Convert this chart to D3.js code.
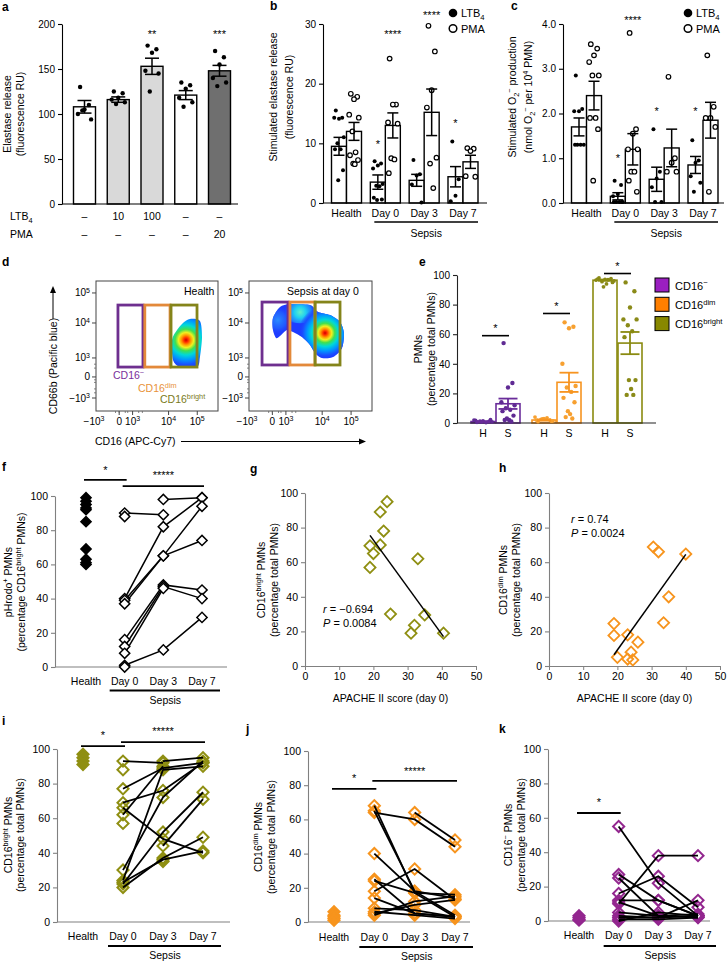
<!DOCTYPE html>
<html><head><meta charset="utf-8">
<script src="https://cdn.jsdelivr.net/npm/d3@7/dist/d3.min.js"></script>
<style>html,body{margin:0;padding:0;background:#fff;}svg{display:block;}</style>
</head><body>
<svg id="fig" width="727" height="962" xmlns="http://www.w3.org/2000/svg"></svg>
<script>
// ================= DATA =================
// panel a
const aLTB4 = ['–','10','100','–','–'];
const aPMA = ['–','–','–','–','20'];
const aMeans = [108,116,153,121,148];
const aSEM = [7,3,9,5,6];
const aPoints = [[130,110,105,100,94,104],[125,123,118,116,113,111],[176,172,168,148,145,125],[135,132,128,118,113,108],[170,163,155,140,135,131]];
const aStars = ['','','**','','***'];
const aStarLevel = 191;
const aYTicks = [0,50,100,150,200];
// panels b, c
const timeGroups = ['Health','Day 0','Day 3','Day 7'];
const bYTicks = [0,10,20,30];
const bLTB4Means = [9.5,3.5,3.8,4.4];
const bLTB4SEM = [1.5,1.2,1.0,1.7];
const bPMAMeans = [12,13,15.2,6.9];
const bPMASEM = [1.5,2.1,3.9,1.1];
const bLTB4Points = [[15.5,14.3,14.1,14.3,11,10,9,9,5.5,3.8],[7,6.6,6.3,5.8,3.2,2.9,2.8,0.9,0.6,0.5],[7.2,4.8,4.6,3.1,0.1],[10.3,4.0,1.2,0.3]];
const bPMAPoints = [[18.3,17.8,17.4,14.8,14.3,12,8.5,8,7.2,6.6,6.5],[24.2,16.5,16.5,13.5,13.3,7.5,7.3,5.0],[29.7,25.4,18.9,16,7.6,6.6,2.5],[9.2,9.1,8.7,4.5,4.4]];
const bStars = [{grp:'Day 0',s:'LTB4',text:'*',level:10.2},{grp:'Day 0',s:'PMA',text:'****',level:28.6},{grp:'Day 3',s:'PMA',text:'****',level:31.8},{grp:'Day 7',s:'LTB4',text:'*',level:13.6}];
const cYTicks = [0,1,2,3,4];
const cLTB4Means = [1.7,0.15,0.53,0.85];
const cLTB4SEM = [0.2,0.08,0.27,0.19];
const cPMAMeans = [2.4,1.2,1.23,1.85];
const cPMASEM = [0.32,0.35,0.42,0.4];
const cLTB4Points = [[2.85,2.1,2.05,2.05,1.3,1.3,1.3,1.3],[0.5,0.4,0.2,0.15,0.02,0.02,0.02,0.02,0.02],[1.65,0.7,0.55,0.35,0.02,0.02],[1.4,0.95,0.9,0.6,0.45,0.25]];
const cPMAPoints = [[3.55,3.45,3.3,3.15,2.85,2.85,1.9,1.9,1.65,0.5],[3.8,1.65,1.55,1.2,1.2,0.7,0.7,0.5,0.25],[2.82,1.0,0.9,0.7,0.7],[3.3,2.15,1.9,1.9,1.7,0.25]];
const cStars = [{grp:'Day 0',s:'LTB4',text:'*',level:1.05},{grp:'Day 0',s:'PMA',text:'****',level:4.13},{grp:'Day 3',s:'LTB4',text:'*',level:2.08},{grp:'Day 7',s:'LTB4',text:'*',level:2.08}];
// panel d (flow cytometry; positions on the biexponential display axis, 0..1 of the plot)
const flowTickLabels = [['−10','3'],['0',''],['10','3'],['10','4'],['10','5']];
const flowYPos = [0.10,0.262,0.408,0.677,0.908];
const flowXPos = [-0.016,0.19,0.30,0.595,0.83];
const healthGates = [[0.18,0.385,0.338,0.815],[0.40,0.607,0.338,0.815],[0.615,0.828,0.338,0.815]];
const sepsisGates = [[0.106,0.317,0.354,0.838],[0.333,0.537,0.354,0.838],[0.537,0.74,0.354,0.838]];
const healthBlob = [[0.770,0.708],[0.852,0.692],[0.869,0.569],[0.852,0.415],[0.828,0.338],[0.689,0.338],[0.631,0.392],[0.623,0.546],[0.664,0.623],[0.713,0.677]];
const healthBlobPeak = [0.738,0.546];
const sepsisBlob = [[0.195,0.715],[0.252,0.80],[0.333,0.823],[0.496,0.815],[0.561,0.762],[0.659,0.738],[0.740,0.685],[0.772,0.60],[0.756,0.485],[0.683,0.415],[0.593,0.408],[0.537,0.446],[0.496,0.508],[0.431,0.569],[0.358,0.608],[0.309,0.623],[0.252,0.577],[0.220,0.562],[0.195,0.623]];
const sepsisPeak = [0.618,0.600];
const sepsisSecondary = [0.415,0.760];
const sepsisLeft = [0.235,0.70];
// panel e
const eCats = ['CD16neg','CD16dim','CD16bright'];
const eLegend = [['CD16','−'],['CD16','dim'],['CD16','bright']];
const eGroups = ['H','S'];
const eYTicks = [0,20,40,60,80,100];
const eHealthMeans = [1,2,96.5];
const eHealthSEM = [0.3,0.5,0.5];
const eSepsisMeans = [13,27.5,54];
const eSepsisSEM = [3.5,6.5,7.5];
const eHealthPoints = [[0.5,1,1.5,2,0.8,1.2,0.3,1.8,2.2,0.6],[1,2,3,4,1.5,2.5,3.5,2,1.2,2.8],[98,97.5,97,96.5,96,95.5,96.8,97.2,95,92,94]];
const eSepsisPoints = [[54,27,24,14,12,10,9,8,5,3,2,2,1],[68,65,64,40,25,24,21,17,14,8,6,4,3],[95,89,78,70,70,66,62,58,29,29,23,19,19]];
const eSigLevels = [59,74,101];
// panel f
const pctTicks = [0,20,40,60,80,100];
const fHealth = [99,97,95,93,92,85,69,63,61,60];
const fPatients = [[90,89,null],[null,98,99],[40,82,99],[39,65,74],[37,65,94],[16,48,45],[12,47,40],[8,46,null],[1,10,29],[0,null,null],[88,null,null]];
const fSig = [{from:'Health',to:'Day 0',level:109.4,star:'*',starLevel:115.8},{from:'Day 0',to:'Day 7',level:105.8,star:'*****',starLevel:112.9}];
// panels g, h
const apacheTicks = [0,10,20,30,40,50];
const gApache = [24,22,23,22,19,20,19,33,25,31,32,35,40.5];
const gBright = [95,89,78,70,69.5,65,57,62,30,19,23.5,29.5,19];
const gFit = [[19,75.5],[40.5,17]];
const hApache = [19,19,23,26,20,23,24,24.5,33.5,35,30.5,32,40];
const hDim = [24.5,17.7,18,13.8,5,4,8,3.5,25,40,68.8,66,64.7];
const hFit = [[19,6.5],[40,64.5]];
// panel i
const iHealth = [97,95,93,91];
const iPatients = [[93,92,null],[77,89,92],[69,76,92],[66,48,40],[30,72,93],[24,88,90],[22,52,75],[20,37,49],[23,36,41],[88,null,null],[62,90,null],[57,null,null],[null,44,71],[null,35,null],[null,93,95]];
const iSig = [{from:'Health',to:'Day 0',level:101.7,star:'*',starLevel:109},{from:'Day 0',to:'Day 7',level:104,star:'*****',starLevel:111.5}];
// panel j
const jHealth = [6,4,3,2,1];
const jPatients = [[64,60,44],[null,64,48],[65,18,4],[68,17,3],[40,18,14],[25,5,3],[24,17,16],[18,31,13],[14,5,3],[8,7,3],[6,4,2],[5,10,13],[4,12,15]];
const jSig = [{from:'Health',to:'Day 0',level:77.8,star:'*',starLevel:84.8},{from:'Day 0',to:'Day 7',level:82.5,star:'*****',starLevel:88.9}];
// panel k
const kHealth = [3,2,1,0.5];
const kPatients = [[55,22,3],[10,38,38],[27,12,3],[16,26,8],[12,12,3],[3,2,12],[5,3,4],[1,1,2],[0,5,3],[2,2,3],[11,3,2],[25,3,null]];
const kSig = [{from:'Health',to:'Day 0',level:62.8,star:'*',starLevel:70.3}];

// ================= STYLE =================
const FONT = '"Liberation Sans", Arial, Helvetica, sans-serif';
const AXG = '#808080';
const JIT = [-4,4,0,-6,6,-2,2,-5,5,-1,1,-3,3];
const aFills = ['#ffffff','#d9d9d9','#d9d9d9','#ffffff','#6f6f6f'];
const ePointCols = ['#5f2a93','#f7a030','#8a8a18'];
const eBarCols = ['#6a2c9a','#f79420','#8a8a10'];
const eLegendCols = ['#9a1fc0','#ff7f00','#888800'];
const gateCols = ['#6e2f8f','#e3893a','#84841a'];
const gateTextCols = ['#7a2f9a','#e8923a','#7a7a1a'];
const OLIVE = '#8f8f12', ORANGE = '#f7941d', PURPLE = '#93278f';

const svg = d3.select('#fig').style('font-family', FONT);
svg.append('rect').attr('width',727).attr('height',962).attr('fill','#fff');
const defs = svg.append('defs');

// ================= HELPERS =================
function addRich(t, segs, fs){
  let shift = 0;
  segs.forEach(s=>{
    let txt, target=0, size=fs;
    if (typeof s === 'string') txt = s;
    else if (s.sup !== undefined){ txt=s.sup; target=-fs*0.38; size=fs*0.7; }
    else if (s.sub !== undefined){ txt=s.sub; target=fs*0.25; size=fs*0.7; }
    const ts = t.append('tspan').attr('font-size', size).text(txt);
    if (target-shift !== 0) ts.attr('dy', target-shift);
    shift = target;
  });
  return t;
}
function txt(g, x, y, segs, fs, anchor, col, weight){
  const t = g.append('text').attr('x',x).attr('y',y).attr('font-size',fs)
    .attr('text-anchor',anchor||'start').attr('fill',col||'#000').attr('font-family',FONT);
  if (weight) t.attr('font-weight',weight);
  addRich(t, Array.isArray(segs)?segs:[segs], fs);
  return t;
}
function rotTitle(g, x, y, segs, fs){
  const t = g.append('text').attr('transform',`translate(${x},${y}) rotate(-90)`)
    .attr('text-anchor','middle').attr('font-size',fs).attr('font-family',FONT).attr('fill','#000');
  addRich(t, segs, fs);
}
function leftAxis(g, y, ticks, x, col, fs){
  const ax = g.append('g').attr('transform',`translate(${x},0)`)
    .call(d3.axisLeft(y).tickValues(ticks).tickSize(4).tickSizeOuter(0).tickPadding(3));
  ax.attr('font-family',FONT).attr('font-size',fs||10);
  ax.select('.domain').attr('stroke',col).attr('stroke-width',1.1);
  ax.selectAll('.tick line').attr('stroke',col).attr('stroke-width',1.1);
  ax.selectAll('.tick text').attr('fill','#000');
  return ax;
}
function hline(g,x1,x2,y,col,w){ return g.append('line').attr('x1',x1).attr('x2',x2).attr('y1',y).attr('y2',y).attr('stroke',col).attr('stroke-width',w||1.1); }
function vline(g,x,y1,y2,col,w){ return g.append('line').attr('x1',x).attr('x2',x).attr('y1',y1).attr('y2',y2).attr('stroke',col).attr('stroke-width',w||1.1); }
function errBar(g, cx, y, m, s, cap, col, w){
  vline(g, cx, y(m-s), y(m+s), col, w);
  hline(g, cx-cap/2, cx+cap/2, y(m+s), col, w);
  hline(g, cx-cap/2, cx+cap/2, y(m-s), col, w);
}
function star(g, x, yc, text, fs){
  g.append('text').attr('x',x).attr('y',yc+fs*0.5).attr('text-anchor','middle')
    .attr('font-size',fs).attr('font-family',FONT).attr('fill','#000').text(text);
}
function diamond(g, cx, cy, size, stroke, fill, sw){
  g.append('path').attr('d', d3.symbol(d3.symbolSquare, size)())
    .attr('transform',`translate(${cx},${cy}) rotate(45)`)
    .attr('fill',fill).attr('stroke',stroke).attr('stroke-width',sw);
}
function letter(x,y,l){ txt(svg,x,y,l,12,'start','#000','bold'); }

// ================= PANEL a =================
(function(){
  const g = svg.append('g');
  const y = d3.scaleLinear().domain([0,200]).range([204,24]);
  const x = d3.scalePoint().domain(d3.range(aMeans.length)).range([84.5,219.5]);
  leftAxis(g, y, aYTicks, 62, '#000');
  aMeans.forEach((m,i)=>{
    g.append('rect').attr('x',x(i)-11).attr('width',22).attr('y',y(m)).attr('height',y(0)-y(m))
      .attr('fill',aFills[i]).attr('stroke','#000').attr('stroke-width',1.4);
  });
  hline(g,62,238,y(0),'#000',1.2);
  aPoints.forEach((pts,i)=>pts.forEach((v,j)=>{
    g.append('circle').attr('cx',x(i)+JIT[j%JIT.length]*1.1).attr('cy',y(v)).attr('r',2.2).attr('fill','#000');
  }));
  aMeans.forEach((m,i)=>errBar(g,x(i),y,m,aSEM[i],14,'#000',1.5));
  aStars.forEach((s,i)=>{ if(s) star(g,x(i),y(aStarLevel),s,11); });
  txt(g,10,220,['LTB',{sub:'4'}],10.5);
  txt(g,10,238,'PMA',10.5);
  aLTB4.forEach((s,i)=>txt(g,x(i),220,s,10.5,'middle'));
  aPMA.forEach((s,i)=>txt(g,x(i),238,s,10.5,'middle'));
  rotTitle(g,10.5,114,['Elastase release'],10.5);
  rotTitle(g,24,114,['(fluorescence RU)'],10.5);
  letter(2,11,'a');
})();

// ================= PANELS b, c =================
function groupedPanel(o){
  const g = svg.append('g');
  const y = d3.scaleLinear().domain(o.domain).range([203,24]);
  const x = d3.scalePoint().domain(timeGroups).range(o.xr);
  leftAxis(g, y, o.ticks, o.axisX, '#000');
  const series = [{key:'LTB4',means:o.lm,sem:o.ls,pts:o.lp,off:-7.5,filled:true},{key:'PMA',means:o.pm,sem:o.ps,pts:o.pp,off:7.5,filled:false}];
  series.forEach(s=>timeGroups.forEach((grp,i)=>{
    const cx = x(grp)+s.off;
    g.append('rect').attr('x',cx-7.5).attr('width',15).attr('y',y(s.means[i])).attr('height',y(0)-y(s.means[i]))
      .attr('fill','#fff').attr('stroke','#000').attr('stroke-width',1.4);
  }));
  hline(g,o.axisX,o.xEnd,y(0),'#000',1.2);
  series.forEach(s=>timeGroups.forEach((grp,i)=>{
    const cx = x(grp)+s.off;
    s.pts[i].forEach((v,j)=>{
      const px = cx + JIT[j%JIT.length]*0.8;
      const c = g.append('circle').attr('cx',px).attr('cy',y(v));
      if (s.filled) c.attr('r',2).attr('fill','#000');
      else c.attr('r',2.3).attr('fill','#fff').attr('stroke','#000').attr('stroke-width',1.2);
    });
  }));
  series.forEach(s=>timeGroups.forEach((grp,i)=>errBar(g,x(grp)+s.off,y,s.means[i],s.sem[i],11,'#000',1.5)));
  o.stars.forEach(st=>star(g, x(st.grp)+(st.s==='LTB4'?-7.5:7.5), y(st.level), st.text, 11));
  timeGroups.forEach(grp=>txt(g,x(grp),217,grp,10.5,'middle'));
  hline(g,x('Day 0')-11,x('Day 7')+15,222,'#000',1.6);
  txt(g,(x('Day 0')+x('Day 7'))/2+2,237,'Sepsis',10.5,'middle');
  // legend
  g.append('circle').attr('cx',o.legX).attr('cy',13).attr('r',4.3).attr('fill','#000');
  g.append('circle').attr('cx',o.legX).attr('cy',28.5).attr('r',3.8).attr('fill','#fff').attr('stroke','#000').attr('stroke-width',1.5);
  txt(g,o.legX+8,17,['LTB',{sub:'4'}],11);
  txt(g,o.legX+8,32.5,'PMA',11);
  o.title.forEach((segs,k)=>rotTitle(g,o.titleX[k],97,segs,10.5));
}
groupedPanel({domain:[0,30],ticks:bYTicks,xr:[346.5,463],axisX:323,xEnd:487,lm:bLTB4Means,ls:bLTB4SEM,pm:bPMAMeans,ps:bPMASEM,lp:bLTB4Points,pp:bPMAPoints,stars:bStars,legX:453,
  title:[['Stimulated elastase release'],['(fluorescence RU)']],titleX:[277,293]});
letter(270,10,'b');
groupedPanel({domain:[0,4],ticks:cYTicks,xr:[586.5,703],axisX:563,xEnd:724,lm:cLTB4Means,ls:cLTB4SEM,pm:cPMAMeans,ps:cPMASEM,lp:cLTB4Points,pp:cPMAPoints,stars:cStars,legX:688,
  title:[['Stimulated O',{sub:'2'},{sup:'−'},' production'],['(nmol O',{sub:'2'},{sup:'−'},' per 10',{sup:'4'},' PMN)']],titleX:[516,532]});
letter(511,10,'c');

// ================= PANEL d =================
function jetGradient(id, cx, cy, r, endOpacity){
  const gr = defs.append('radialGradient').attr('id',id).attr('gradientUnits','userSpaceOnUse')
    .attr('cx',cx).attr('cy',cy).attr('r',r).attr('fx',cx).attr('fy',cy);
  const stops = [[0,'#c80000',1],[0.07,'#ff2a00',1],[0.16,'#ff9a00',1],[0.25,'#f0f020',1],[0.36,'#40e050',1],[0.5,'#00d8d8',1],[0.66,'#0098ff',1],[0.82,'#1a50ff',1],[1,'#1a36ff',endOpacity]];
  stops.forEach(s=>gr.append('stop').attr('offset',s[0]).attr('stop-color',s[1]).attr('stop-opacity',s[2]));
}
function flowPlot(left, top, w, h, gates, name, nameX){
  const g = svg.append('g');
  const xs = d3.scaleLinear().domain([0,1]).range([left,left+w]);
  const ys = d3.scaleLinear().domain([0,1]).range([top+h,top]);
  g.append('rect').attr('x',left).attr('y',top).attr('width',w).attr('height',h).attr('fill','#fff').attr('stroke','#444').attr('stroke-width',1);
  flowYPos.forEach((p,i)=>{
    hline(g,left-4,left,ys(p),'#444',1);
    txt(g,left-6,ys(p)+3.5,[flowTickLabels[i][0],{sup:flowTickLabels[i][1]}],10,'end');
  });
  flowXPos.forEach((p,i)=>{
    if (p>=0) vline(g,xs(p),top+h,top+h+4,'#444',1);
    txt(g,xs(p),top+h+14,[flowTickLabels[i][0],{sup:flowTickLabels[i][1]}],10,'middle');
  });
  // minor ticks near zero
  [0.14,0.17,0.22,0.24,0.33,0.36].forEach(p=>{ hline(g,left-2,left,ys(p),'#666',0.8); vline(g,xs(p+0.02),top+h,top+h+2,'#666',0.8); });
  txt(g,nameX,top+14,name,10.5,'start');
  return {g,xs,ys};
}
(function(){
  // Health
  const H = flowPlot(96,281,122,130,healthGates,'Health',184);
  const pk = [H.xs(healthBlobPeak[0]),H.ys(healthBlobPeak[1])];
  jetGradient('jetH',pk[0],pk[1],30,1);
  const lineH = d3.line().curve(d3.curveCardinalClosed.tension(0.2)).x(d=>H.xs(d[0])).y(d=>H.ys(d[1]));
  H.g.append('path').attr('d',lineH(healthBlob)).attr('fill','url(#jetH)');
  healthGates.forEach((gt,i)=>H.g.append('rect').attr('x',H.xs(gt[0])).attr('y',H.ys(gt[3])).attr('width',H.xs(gt[1])-H.xs(gt[0])).attr('height',H.ys(gt[2])-H.ys(gt[3]))
    .attr('fill','none').attr('stroke',gateCols[i]).attr('stroke-width',2.8));
  txt(H.g,113,379,['CD16',{sup:'−'}],10.5,'start',gateTextCols[0]);
  txt(H.g,138,392,['CD16',{sup:'dim'}],10.5,'start',gateTextCols[1]);
  txt(H.g,160,403,['CD16',{sup:'bright'}],10.5,'start',gateTextCols[2]);
  // Sepsis
  const S = flowPlot(249,281,123,130,sepsisGates,'Sepsis at day 0',287);
  const lineS = d3.line().curve(d3.curveCardinalClosed.tension(0.2)).x(d=>S.xs(d[0])).y(d=>S.ys(d[1]));
  defs.append('clipPath').attr('id','sepClip').append('path').attr('d',lineS(sepsisBlob));
  S.g.append('path').attr('d',lineS(sepsisBlob)).attr('fill','#1e3cff');
  const cg = S.g.append('g').attr('clip-path','url(#sepClip)');
  const lp = [S.xs(sepsisLeft[0]),S.ys(sepsisLeft[1])];
  const lg = defs.append('radialGradient').attr('id','leftB').attr('gradientUnits','userSpaceOnUse').attr('cx',lp[0]).attr('cy',lp[1]).attr('r',14);
  [[0,'#2a8cff',1],[0.6,'#2266ff',0.7],[1,'#1e3cff',0]].forEach(s=>lg.append('stop').attr('offset',s[0]).attr('stop-color',s[1]).attr('stop-opacity',s[2]));
  cg.append('ellipse').attr('cx',lp[0]).attr('cy',lp[1]).attr('rx',14).attr('ry',16).attr('fill','url(#leftB)');
  const sp = [S.xs(sepsisSecondary[0]),S.ys(sepsisSecondary[1])];
  const sg = defs.append('radialGradient').attr('id','cyanB').attr('gradientUnits','userSpaceOnUse').attr('cx',sp[0]).attr('cy',sp[1]).attr('r',16);
  [[0,'#60f0c8',1],[0.35,'#20d0f0',1],[0.7,'#2090ff',0.8],[1,'#1e3cff',0]].forEach(s=>sg.append('stop').attr('offset',s[0]).attr('stop-color',s[1]).attr('stop-opacity',s[2]));
  cg.append('ellipse').attr('cx',sp[0]).attr('cy',sp[1]).attr('rx',18).attr('ry',11).attr('fill','url(#cyanB)');
  const pp = [S.xs(sepsisPeak[0]),S.ys(sepsisPeak[1])];
  jetGradient('jetS',pp[0],pp[1],27,0);
  cg.append('ellipse').attr('cx',pp[0]).attr('cy',pp[1]).attr('rx',27).attr('ry',27).attr('fill','url(#jetS)');
  sepsisGates.forEach((gt,i)=>S.g.append('rect').attr('x',S.xs(gt[0])).attr('y',S.ys(gt[3])).attr('width',S.xs(gt[1])-S.xs(gt[0])).attr('height',S.ys(gt[2])-S.ys(gt[3]))
    .attr('fill','none').attr('stroke',gateCols[i]).attr('stroke-width',2.8));
  // axis titles with arrows
  const g = svg.append('g');
  rotTitle(g,57,366,['CD66b (Pacific blue)'],10.5);
  vline(g,53,319,292,'#000',1);
  g.append('path').attr('d','M53,286 L50,293 L56,293 Z').attr('fill','#000');
  txt(g,95,445,'CD16 (APC-Cy7)',10.5,'start');
  hline(g,181,360,441.5,'#000',1);
  g.append('path').attr('d','M366,441.5 L359,438.5 L359,444.5 Z').attr('fill','#000');
  letter(2,266,'d');
})();

// ================= PANEL e =================
(function(){
  const g = svg.append('g');
  const y = d3.scaleLinear().domain([0,100]).range([423,275]);
  const x = d3.scalePoint().domain(eCats).range([495.5,617.5]);
  const off = {H:-12.5,S:12.5};
  leftAxis(g,y,eYTicks,457,'#222');
  eCats.forEach((c,i)=>{
    [['H',eHealthMeans],['S',eSepsisMeans]].forEach(([k,means])=>{
      const cx = x(c)+off[k];
      g.append('rect').attr('x',cx-12).attr('width',24).attr('y',y(means[i])).attr('height',y(0)-y(means[i]))
        .attr('fill','#fff').attr('stroke',eBarCols[i]).attr('stroke-width',1.6);
    });
  });
  hline(g,457,656,y(0),'#222',1.1);
  eCats.forEach((c,i)=>{
    eHealthPoints[i].forEach((v,j)=>g.append('circle').attr('cx',x(c)+off.H+JIT[j%JIT.length]*1.5).attr('cy',y(v)).attr('r',1.9).attr('fill',ePointCols[i]));
    eSepsisPoints[i].forEach((v,j)=>g.append('circle').attr('cx',x(c)+off.S+JIT[j%JIT.length]*1.1).attr('cy',y(v)).attr('r',2.2).attr('fill',ePointCols[i]));
    errBar(g,x(c)+off.H,y,eHealthMeans[i],eHealthSEM[i],14,eBarCols[i],1.6);
    errBar(g,x(c)+off.S,y,eSepsisMeans[i],eSepsisSEM[i],19,eBarCols[i],1.8);
    hline(g,x(c)+off.H-1,x(c)+off.S+1,y(eSigLevels[i]),'#000',1.6);
    star(g,x(c),y(eSigLevels[i]+6),'*',11);
    eGroups.forEach(k=>txt(g,x(c)+off[k],437,k,10.5,'middle'));
  });
  eLegend.forEach((l,i)=>{
    g.append('rect').attr('x',655).attr('y',278+i*19.3).attr('width',14).attr('height',14).attr('fill',eLegendCols[i]).attr('stroke','#000').attr('stroke-width',1);
    txt(g,675,289.5+i*19.3,[l[0],{sup:l[1]}],11);
  });
  rotTitle(g,421.5,349,['PMNs'],10.5);
  rotTitle(g,434.5,349,['(percentage total PMNs)'],10.5);
  letter(419,266,'e');
})();

// ================= PANELS f, i, j, k =================
function pairedPlot(o){
  const g = svg.append('g');
  const y = d3.scaleLinear().domain([0,100]).range([o.y0,o.y1]);
  const x = d3.scalePoint().domain(timeGroups).range(o.xr);
  leftAxis(g,y,pctTicks,o.axisX,AXG,10.5);
  hline(g,o.axisX,o.xEnd,y(0),AXG,1.1);
  const line = d3.line().defined(d=>d.v!=null).x(d=>x(d.t)).y(d=>y(d.v));
  const drawLines = ()=>o.patients.forEach(p=>{
    const pts = p.map((v,k)=>({t:timeGroups[k+1],v}));
    g.append('path').attr('d',line(pts)).attr('fill','none').attr('stroke','#000').attr('stroke-width',o.lw);
  });
  const drawDiamonds = ()=>{
    o.health.forEach(v=>diamond(g,x('Health'),y(v),o.size,o.color,o.healthFill,o.sw));
    o.patients.forEach(p=>p.forEach((v,k)=>{ if(v!=null) diamond(g,x(timeGroups[k+1]),y(v),o.size,o.color,o.dFill,o.sw); }));
  };
  if (o.linesFirst){ drawLines(); drawDiamonds(); } else { drawDiamonds(); drawLines(); }
  o.sig.forEach(s=>{
    hline(g,x(s.from)-2,x(s.to)+2,y(s.level),'#000',1.8);
    star(g,(x(s.from)+x(s.to))/2,y(s.starLevel),s.star,11);
  });
  timeGroups.forEach(t=>txt(g,x(t),o.labY,t,10.5,'middle'));
  hline(g,x('Day 0')-15,x('Day 7')+18,o.sepY,'#000',1.8);
  txt(g,(x('Day 0')+x('Day 7'))/2+2,o.sepY+13,'Sepsis',10.5,'middle');
  o.title.forEach((segs,k)=>rotTitle(g,o.titleX[k],o.titleY,segs,10.5));
}
pairedPlot({y0:667,y1:496,xr:[86,202],axisX:55,xEnd:227,health:fHealth,patients:fPatients,color:'#000',healthFill:'#000',dFill:'#fff',size:52,sw:1.5,lw:1.5,linesFirst:true,
  sig:fSig,labY:685,sepY:690.5,title:[['pHrodo',{sup:'+'},' PMNs'],['(percentage CD16',{sup:'bright'},' PMNs)']],titleX:[12,25],titleY:582});
letter(2,471,'f');
pairedPlot({y0:922,y1:749,xr:[83,203],axisX:57,xEnd:230,health:iHealth,patients:iPatients,color:OLIVE,healthFill:OLIVE,dFill:'none',size:62,sw:2,lw:1.8,linesFirst:false,
  sig:iSig,labY:940,sepY:946,title:[['CD16',{sup:'bright'},' PMNs'],['(percentage total PMNs)']],titleX:[11.5,24],titleY:835});
letter(2,725,'i');
pairedPlot({y0:922,y1:751,xr:[334,455],axisX:308,xEnd:470,health:jHealth,patients:jPatients,color:ORANGE,healthFill:ORANGE,dFill:'none',size:62,sw:2,lw:1.8,linesFirst:false,
  sig:jSig,labY:941,sepY:947,title:[['CD16',{sup:'dim'},' PMNs'],['(percentage total PMNs)']],titleX:[261.5,275],titleY:837});
letter(246,733,'j');
pairedPlot({y0:921,y1:749,xr:[579,698],axisX:548,xEnd:710,health:kHealth,patients:kPatients,color:PURPLE,healthFill:PURPLE,dFill:'none',size:62,sw:2,lw:1.8,linesFirst:false,
  sig:kSig,labY:939,sepY:946,title:[['CD16',{sup:'−'},' PMNs'],['(percentage total PMNs)']],titleX:[512,525],titleY:835});
letter(499,733,'k');

// ================= PANELS g, h =================
function scatterPanel(o){
  const g = svg.append('g');
  const y = d3.scaleLinear().domain([0,100]).range([666,493]);
  const x = d3.scaleLinear().domain([0,50]).range([o.axisX,o.axisX+171]);
  leftAxis(g,y,pctTicks,o.axisX,AXG,10.5);
  const ax = g.append('g').attr('transform',`translate(0,${y(0)})`).call(d3.axisBottom(x).tickValues(apacheTicks).tickSize(4).tickSizeOuter(0).tickPadding(3));
  ax.attr('font-family',FONT).attr('font-size',10.5);
  ax.select('.domain').attr('stroke',AXG).attr('stroke-width',1.1);
  ax.selectAll('.tick line').attr('stroke',AXG);
  ax.selectAll('.tick text').attr('fill','#000');
  o.xs.forEach((v,i)=>diamond(g,x(v),y(o.ys[i]),o.size||62,o.color,'none',1.8));
  g.append('line').attr('x1',x(o.fit[0][0])).attr('y1',y(o.fit[0][1])).attr('x2',x(o.fit[1][0])).attr('y2',y(o.fit[1][1])).attr('stroke','#000').attr('stroke-width',1.5);
  txt(g,o.statX,o.statY,[{t:''}].length?[]:[],10.5);
  const t1 = g.append('text').attr('x',o.statX).attr('y',o.statY).attr('font-size',11).attr('font-family',FONT);
  t1.append('tspan').attr('font-style','italic').text('r');
  t1.append('tspan').text(' = '+o.r);
  const t2 = g.append('text').attr('x',o.statX).attr('y',o.statY+14).attr('font-size',11).attr('font-family',FONT);
  t2.append('tspan').attr('font-style','italic').text('P');
  t2.append('tspan').text(' = '+o.p);
  txt(g,o.axisX+85.5,702,'APACHE II score (day 0)',10.5,'middle');
  o.title.forEach((segs,k)=>rotTitle(g,o.titleX[k],580,segs,10.5));
}
scatterPanel({axisX:305,xs:gApache,ys:gBright,fit:gFit,color:OLIVE,r:'−0.694',p:'0.0084',statX:323,statY:613,
  title:[['CD16',{sup:'bright'},' PMNs'],['(percentage total PMNs)']],titleX:[264.5,277.5]});
letter(250,473,'g');
scatterPanel({axisX:549,xs:hApache,ys:hDim,fit:hFit,color:ORANGE,r:'0.74',p:'0.0024',statX:571,statY:523,
  title:[['CD16',{sup:'dim'},' PMNs'],['(percentage total PMNs)']],titleX:[507,520]});
letter(499,472,'h');
</script>
</body></html>
